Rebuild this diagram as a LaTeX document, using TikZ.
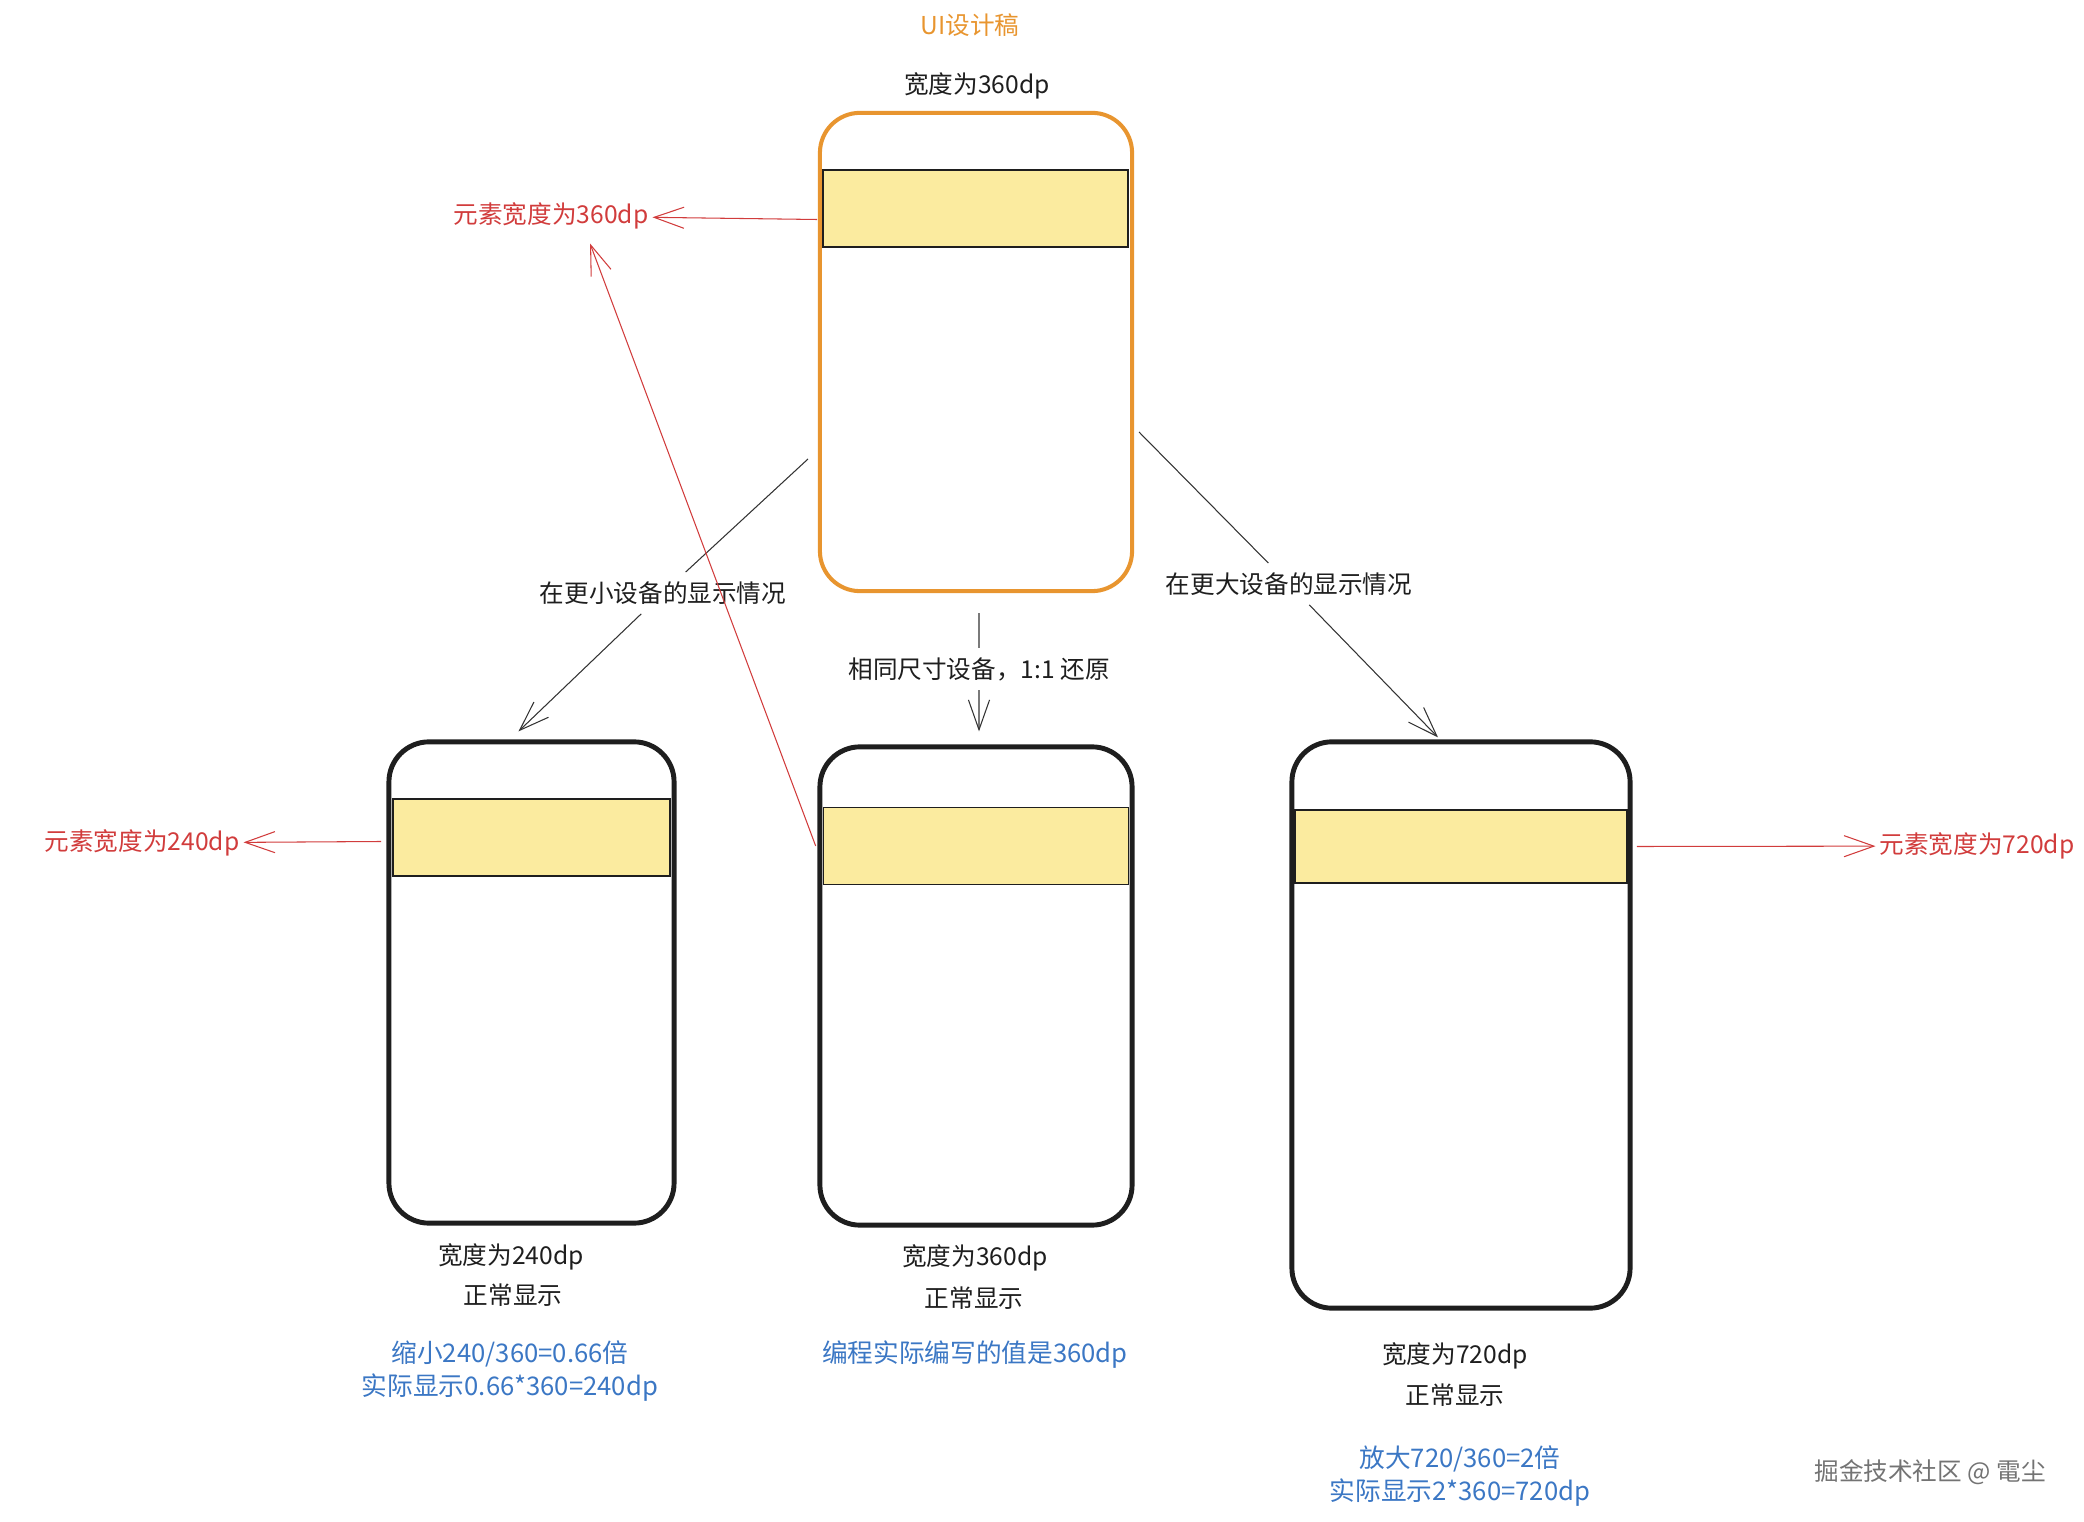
\documentclass[tikz,border=0pt]{standalone}
\usepackage{fontspec}
\setmainfont{Noto Sans CJK SC}
\usetikzlibrary{arrows.meta}

\definecolor{sketchorange}{HTML}{E8952F}
\definecolor{sketchred}{HTML}{D13C3C}
\definecolor{sketchblue}{HTML}{3B77C4}
\definecolor{sketchyellow}{HTML}{FBEB9F}
\definecolor{sketchink}{HTML}{1E1E1E}

\begin{document}
\begin{tikzpicture}[x=0.01cm,y=-0.01cm,
    phone/.style={draw=sketchink,line width=1.4pt,rounded corners=0.4cm,inner sep=0pt},
    bar/.style={draw=sketchink,line width=0.4pt,fill=sketchyellow,inner sep=0pt},
    txt/.style={font=\fontsize{7}{9.4}\selectfont,text=sketchink,align=center,inner sep=1pt},
    redtxt/.style={txt,text=sketchred},
    bluetxt/.style={txt,font=\fontsize{7.3}{9.4}\selectfont,text=sketchblue},
    quest/.style={txt,inner sep=2.5pt},
    plain/.style={draw=black!80,line width=0.3pt},
    link/.style={plain,-{Straight Barb[length=8.5pt,width=6pt]}},
    redlink/.style={link,draw=sketchred}]
    \useasboundingbox (0,0) rectangle (2084,1522); % page size of the reference

    % design draft on top
    \node[txt,text=sketchorange] (title) at (970,25) {UI设计稿};
    \node[txt] (topw) at (977,86) {宽度为360dp};
    \node[phone,draw=sketchorange,line width=1.15pt,minimum width=3.12cm,minimum height=4.78cm] (top) at (976,352) {};
    \node[bar,minimum width=3.05cm,minimum height=0.77cm] (topbar) at (975.5,208.5) {};
    \node[redtxt] (topel) at (551,216) {元素宽度为360dp};

    % three devices below
    \node[phone,minimum width=2.85cm,minimum height=4.81cm] (small) at (531.5,982.5) {};
    \node[bar,minimum width=2.77cm,minimum height=0.77cm] (smallbar) at (531.5,837.5) {};
    \node[phone,minimum width=3.12cm,minimum height=4.78cm] (same) at (976,986) {};
    \node[bar,minimum width=3.05cm,minimum height=0.77cm] (samebar) at (976,846) {};
    \node[phone,minimum width=3.38cm,minimum height=5.66cm] (large) at (1461,1025) {};
    \node[bar,minimum width=3.32cm,minimum height=0.73cm] (largebar) at (1461,846.5) {};

    \node[redtxt] (smallel) at (142,843) {元素宽度为240dp};
    \node[redtxt] (largeel) at (1977,846) {元素宽度为720dp};

    % captions under the devices
    \node[txt] (smallw) at (511,1257) {宽度为240dp};
    \node[txt] (smalln) at (513,1295) {正常显示};
    \node[bluetxt] (smallb) at (510,1371) {缩小240/360=0.66倍\\实际显示0.66*360=240dp};
    \node[txt] (samew) at (975,1258) {宽度为360dp};
    \node[txt] (samen) at (974,1298) {正常显示};
    \node[bluetxt] (sameb) at (975,1355) {编程实际编写的值是360dp};
    \node[txt] (largew) at (1455,1356) {宽度为720dp};
    \node[txt] (largen) at (1455,1395) {正常显示};
    \node[bluetxt] (largeb) at (1460,1476) {放大720/360=2倍\\实际显示2*360=720dp};
    \node[txt,text=black!55] (mark) at (1930,1472) {掘金技术社区 @ 電尘};

    % connectors with their labels
    \node[quest] (smallq) at (663,593) {在更小设备的显示情况};
    \node[quest] (sameq) at (979,669) {相同尺寸设备，1:1 还原};
    \node[quest] (largeq) at (1289,584) {在更大设备的显示情况};
    \coordinate (smallfrom) at (808,459);
    \coordinate (largefrom) at (1139,432);

    \draw[plain] (smallfrom) -- (smallq);
    \draw[link] (smallq) -- ([xshift=-0.13cm,yshift=0.08cm]small.north);
    \draw[plain] ([xshift=0.03cm,yshift=-0.2cm]top.south) -- (sameq);
    \draw[link] (sameq) -- ([xshift=0.03cm,yshift=0.13cm]same.north);
    \draw[plain] (largefrom) -- (largeq);
    \draw[link] (largeq) -- ([xshift=-0.23cm,yshift=0.02cm]large.north);

    % red width markers
    \draw[redlink] ([xshift=-0.05cm,yshift=-0.11cm]topbar.west) -- (topel);
    \draw[redlink] ([xshift=-0.07cm]samebar.west) -- ([xshift=0.39cm,yshift=-0.1cm]topel.south);
    \draw[redlink] ([xshift=-0.11cm,yshift=-0.04cm]smallbar.west) -- (smallel);
    \draw[redlink] ([xshift=0.09cm]largebar.east) -- (largeel);
\end{tikzpicture}
\end{document}
